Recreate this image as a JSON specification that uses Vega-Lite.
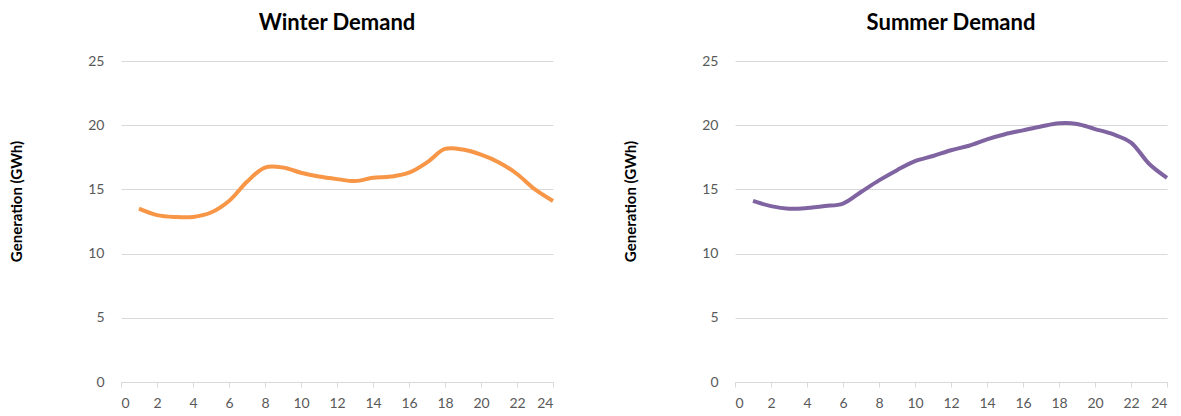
{
  "$schema": "https://vega.github.io/schema/vega-lite/v6.json",
  "padding": {"left": 9, "top": 12, "right": 8, "bottom": 2},
  "background": "white",
  "config": {
    "font": "Lato",
    "view": {"stroke": null},
    "title": {"fontSize": 22, "fontWeight": "bold", "color": "#000000", "font": "Lato", "offset": 19},
    "axis": {"labelFont": "Lato", "titleFont": "Lato", "labelColor": "#595959", "labelFontSize": 14}
  },
  "spacing": 62,
  "data": {
    "values": [
      {"season": "Winter", "hour": 1, "gen": 13.5},
      {"season": "Winter", "hour": 2, "gen": 13.0},
      {"season": "Winter", "hour": 3, "gen": 12.85},
      {"season": "Winter", "hour": 4, "gen": 12.85},
      {"season": "Winter", "hour": 5, "gen": 13.2},
      {"season": "Winter", "hour": 6, "gen": 14.1},
      {"season": "Winter", "hour": 7, "gen": 15.6},
      {"season": "Winter", "hour": 8, "gen": 16.7},
      {"season": "Winter", "hour": 9, "gen": 16.7},
      {"season": "Winter", "hour": 10, "gen": 16.3},
      {"season": "Winter", "hour": 11, "gen": 16.0},
      {"season": "Winter", "hour": 12, "gen": 15.8},
      {"season": "Winter", "hour": 13, "gen": 15.65},
      {"season": "Winter", "hour": 14, "gen": 15.9},
      {"season": "Winter", "hour": 15, "gen": 16.0},
      {"season": "Winter", "hour": 16, "gen": 16.3},
      {"season": "Winter", "hour": 17, "gen": 17.1},
      {"season": "Winter", "hour": 18, "gen": 18.15},
      {"season": "Winter", "hour": 19, "gen": 18.1},
      {"season": "Winter", "hour": 20, "gen": 17.7},
      {"season": "Winter", "hour": 21, "gen": 17.1},
      {"season": "Winter", "hour": 22, "gen": 16.2},
      {"season": "Winter", "hour": 23, "gen": 15.0},
      {"season": "Winter", "hour": 24, "gen": 14.1},
      {"season": "Summer", "hour": 1, "gen": 14.1},
      {"season": "Summer", "hour": 2, "gen": 13.7},
      {"season": "Summer", "hour": 3, "gen": 13.5},
      {"season": "Summer", "hour": 4, "gen": 13.55},
      {"season": "Summer", "hour": 5, "gen": 13.7},
      {"season": "Summer", "hour": 6, "gen": 13.9},
      {"season": "Summer", "hour": 7, "gen": 14.8},
      {"season": "Summer", "hour": 8, "gen": 15.7},
      {"season": "Summer", "hour": 9, "gen": 16.5},
      {"season": "Summer", "hour": 10, "gen": 17.2},
      {"season": "Summer", "hour": 11, "gen": 17.6},
      {"season": "Summer", "hour": 12, "gen": 18.05},
      {"season": "Summer", "hour": 13, "gen": 18.4},
      {"season": "Summer", "hour": 14, "gen": 18.9},
      {"season": "Summer", "hour": 15, "gen": 19.3},
      {"season": "Summer", "hour": 16, "gen": 19.6},
      {"season": "Summer", "hour": 17, "gen": 19.9},
      {"season": "Summer", "hour": 18, "gen": 20.15},
      {"season": "Summer", "hour": 19, "gen": 20.1},
      {"season": "Summer", "hour": 20, "gen": 19.7},
      {"season": "Summer", "hour": 21, "gen": 19.3},
      {"season": "Summer", "hour": 22, "gen": 18.65},
      {"season": "Summer", "hour": 23, "gen": 17.0},
      {"season": "Summer", "hour": 24, "gen": 15.9}
    ]
  },
  "hconcat": [
    {
      "title": "Winter Demand",
      "width": 432,
      "height": 321,
      "transform": [{"filter": "datum.season === 'Winter'"}],
      "mark": {"type": "line", "color": "#F79646", "strokeWidth": 4, "interpolate": "catmull-rom"},
      "encoding": {
        "x": {"field": "hour", "type": "quantitative", "scale": {"domain": [0, 24], "nice": false},
          "axis": {"title": null, "values": [0,2,4,6,8,10,12,14,16,18,20,22,24], "grid": false, "domainColor": "#d9d9d9", "tickColor": "#d9d9d9", "tickSize": 5, "labelPadding": 9}},
        "y": {"field": "gen", "type": "quantitative", "scale": {"domain": [0, 25], "nice": false},
          "axis": {"title": "Generation (GWh)", "titleFontSize": 15, "titleFontWeight": "bold", "titleColor": "#000000", "titlePadding": 63, "titleY": 140, "values": [0,5,10,15,20,25], "grid": true, "gridColor": "#d9d9d9", "domain": false, "ticks": false, "labelPadding": 17}}
      }
    },
    {
      "title": "Summer Demand",
      "width": 432,
      "height": 321,
      "transform": [{"filter": "datum.season === 'Summer'"}],
      "mark": {"type": "line", "color": "#8064A2", "strokeWidth": 4, "interpolate": "catmull-rom"},
      "encoding": {
        "x": {"field": "hour", "type": "quantitative", "scale": {"domain": [0, 24], "nice": false},
          "axis": {"title": null, "values": [0,2,4,6,8,10,12,14,16,18,20,22,24], "grid": false, "domainColor": "#d9d9d9", "tickColor": "#d9d9d9", "tickSize": 5, "labelPadding": 9}},
        "y": {"field": "gen", "type": "quantitative", "scale": {"domain": [0, 25], "nice": false},
          "axis": {"title": "Generation (GWh)", "titleFontSize": 15, "titleFontWeight": "bold", "titleColor": "#000000", "titlePadding": 63, "titleY": 140, "values": [0,5,10,15,20,25], "grid": true, "gridColor": "#d9d9d9", "domain": false, "ticks": false, "labelPadding": 17}}
      }
    }
  ]
}
